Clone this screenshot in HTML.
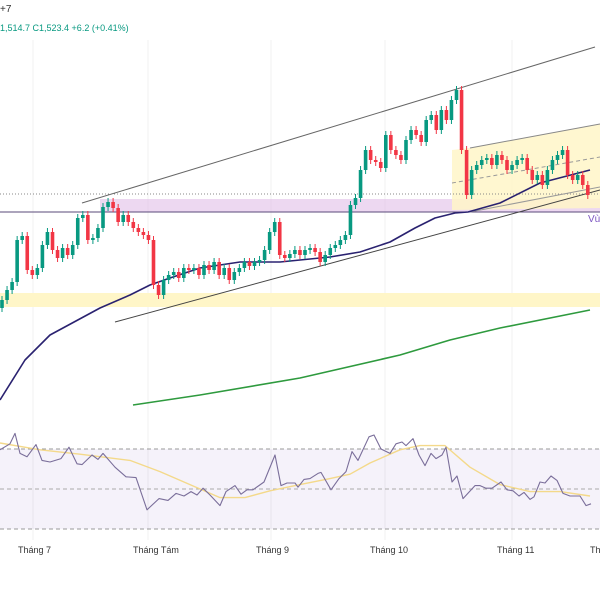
<!DOCTYPE html>
<html><head><meta charset="utf-8"><style>
html,body{margin:0;padding:0;background:#fff;width:600px;height:600px;overflow:hidden}
svg{display:block;font-family:"Liberation Sans",sans-serif}
</style></head><body>
<svg id="chart" width="600" height="600" viewBox="0 0 600 600">
<g id="grid"></g>
<g>
<rect x="100" y="199" width="500" height="13" fill="#e1bee7" opacity="0.6"/>
<rect x="0" y="293" width="600" height="14" fill="#fff6c8"/>
<polygon points="452,150 470,148 600,124 600,208 452,210" fill="#fff6c8" opacity="0.85"/>
<line x1="0" y1="194" x2="600" y2="194" stroke="#888" stroke-dasharray="1,2" stroke-width="1"/>
<line x1="0" y1="212" x2="600" y2="212" stroke="#5a4a7a" stroke-width="1"/>
<line x1="82" y1="203" x2="595" y2="47" stroke="#666" stroke-width="1"/>
<line x1="115" y1="322" x2="600" y2="190" stroke="#444" stroke-width="1"/>
<line x1="470" y1="148" x2="600" y2="124" stroke="#888" stroke-width="1"/>
<line x1="452" y1="183" x2="600" y2="157" stroke="#999" stroke-dasharray="4,3" stroke-width="1"/>
<line x1="470" y1="212" x2="600" y2="187" stroke="#999" stroke-width="1"/>
<text x="588" y="222" font-size="10" fill="#7e57c2">Vù</text>
</g>
<g id="ma"></g>
<g id="candles"></g>
<g>
<rect x="0" y="449" width="600" height="80" fill="#7e57c2" opacity="0.08"/>
<line x1="0" y1="449" x2="600" y2="449" stroke="#999" stroke-dasharray="4,3"/>
<line x1="0" y1="489" x2="600" y2="489" stroke="#aaa" stroke-dasharray="4,3"/>
<line x1="0" y1="529" x2="600" y2="529" stroke="#999" stroke-dasharray="4,3"/>
<g id="rsi"></g>
</g>
<g id="xlabels"></g>
<text x="0" y="12" font-size="10" fill="#333">+7</text>
<text x="0" y="31" font-size="9" fill="#089981">1,514.7  C1,523.4  +6.2 (+0.41%)</text>
</svg>
<script>
const closes=[1418,1428,1436,1478,1482,1448,1443,1450,1473,1486,1468,1460,1470,1463,1473,1500,1503,1478,1480,1490,1511,1516,1510,1496,1503,1496,1490,1486,1483,1478,1433,1423,1438,1443,1446,1440,1450,1448,1450,1443,1453,1448,1456,1443,1450,1438,1446,1450,1456,1452,1456,1458,1468,1486,1496,1463,1460,1464,1468,1463,1468,1470,1466,1456,1463,1470,1473,1478,1483,1513,1520,1548,1568,1558,1556,1550,1583,1568,1563,1558,1578,1588,1583,1576,1598,1603,1588,1608,1598,1618,1628,1568,1523,1548,1553,1558,1560,1553,1563,1558,1548,1553,1558,1560,1548,1538,1543,1533,1548,1558,1563,1568,1543,1538,1543,1533,1523];
const ma50Day=[0,5,10,20,26,30,34,40,48,56,66,72,78,83,87,91,93.6,100,108,118];
const ma50Val=[1318,1358,1383,1410,1423,1433,1440,1450,1456,1456,1461,1466,1476,1490,1500,1505,1506,1515,1535,1548];
const ma200Day=[26.6,40,60,80,90,100,118];
const ma200Val=[1313,1323,1340,1363,1378,1390,1408];
const rsiDay=[0,2,3,4,5.4,7.2,8.4,10,12.2,13.8,15.4,16.4,18.4,19.6,20.6,23,25.2,27.2,29.4,31.8,33.6,35.2,36.8,38.2,39.4,40.6,42,44,45.2,47,48.2,49.4,50.6,52.8,55,56.2,57.4,59,59.6,60.8,62,63.6,64.2,66.2,67.8,69.2,70.4,71.6,73.8,74.8,76.2,78,79.2,80.4,81.2,82.6,83.8,85,86.2,87.2,88.4,89.2,90.4,91.4,92.6,95,96,97.2,98.4,100.2,101.4,102.6,103.8,104.8,106,106.8,108,109,110.2,111.4,112.6,114,116,117.2,118.2];
const rsiVal=[69.6,72.6,77.8,67.8,66.1,72.2,64.3,63.5,65.2,70.9,62.6,62.2,67,64.8,67.8,60.9,56.1,55.7,39.6,45.2,44.3,47.8,46.5,48.7,47,50.4,47,41.7,48.7,51.7,47.4,49.6,49.6,53.5,67,51.7,53,53,50.9,54.8,55.2,57.8,58.3,49.6,55.2,58.7,68.7,64.3,76.1,77,70,67.8,72.6,73.5,71.7,75.2,67,61.7,67.8,65.2,67,70.9,53.5,56.5,45.2,51.7,51.7,50.4,50.4,53.5,49.6,49.1,46.5,48.3,44.8,46.1,53.5,53,56.5,54.3,47.8,46.5,46.5,41.7,42.6];
const rsiMaDay=[0,8,16,26,32,38,44,49,54,60,66,70,74,80,84,89,94,100,106,112,118];
const rsiMaVal=[73,69.6,67.4,64.3,58.7,52.2,45.7,45.7,49.1,52.2,55.2,57.4,63,69.6,71.7,71.7,60.9,52.2,48.7,48.7,46.5];
const monthLabels=["Tháng 7","Tháng Tám","Tháng 9","Tháng 10","Tháng 11","Th"];
const monthDay=[3.6,26.6,51.2,74,99.4,118];

const NS="http://www.w3.org/2000/svg";
const xc=i=>2+i*5.05, xs=t=>t*5, yp=v=>1718-v, yr=v=>529-(v-30)*2;
function mk(tag,attrs,parent){const e=document.createElementNS(NS,tag);for(const k in attrs)e.setAttribute(k,attrs[k]);parent.appendChild(e);return e;}
const grid=document.getElementById('grid');
monthDay.slice(0,5).forEach(d=>{const l=mk('line',{x1:xs(d)+15,x2:xs(d)+15,y1:40,y2:540,stroke:'#f0f0f0'},grid);

});
const cg=document.getElementById('candles');
closes.forEach((c,i)=>{const o=i?closes[i-1]:c-8;const up=c>=o;const col=up?'#089981':'#f23645';
const top=yp(Math.max(o,c)),bot=yp(Math.min(o,c));const x=xc(i);
const w=mk('line',{x1:x,x2:x,y1:top-4,y2:bot+4,stroke:col,'stroke-width':1},cg);


const r=mk('rect',{x:x-1.8,y:top,width:3.6,height:Math.max(1.5,bot-top),fill:col},cg);

});
const mg=document.getElementById('ma');
function poly(days,vals,xf,yf,stroke,sw,g,name){const n=Math.min(days.length,vals.length);let p=[];for(let i=0;i<n;i++)p.push(xf(days[i]).toFixed(1)+','+yf(vals[i]).toFixed(1));
const e=mk('polyline',{points:p.join(' '),fill:'none',stroke:stroke,'stroke-width':sw,'stroke-linejoin':'round'},g);

}
poly(ma50Day,ma50Val,xs,yp,'#2a2270',1.6,mg,'ma50-line');
poly(ma200Day,ma200Val,xs,yp,'#2e9a3e',1.6,mg,'ma200-line');
const rg=document.getElementById('rsi');
poly(rsiMaDay,rsiMaVal,xs,yr,'#f4d98a',1.4,rg,'rsi-ma-line');
poly(rsiDay,rsiVal,xs,yr,'#7a6e9a',1.1,rg,'rsi-line');
const xl=document.getElementById('xlabels');
monthLabels.forEach((m,i)=>{const t=mk('text',{x:xs(monthDay[i]),y:553,'font-size':9,fill:'#333'},xl);t.textContent=m;

});
</script>
</body></html>
